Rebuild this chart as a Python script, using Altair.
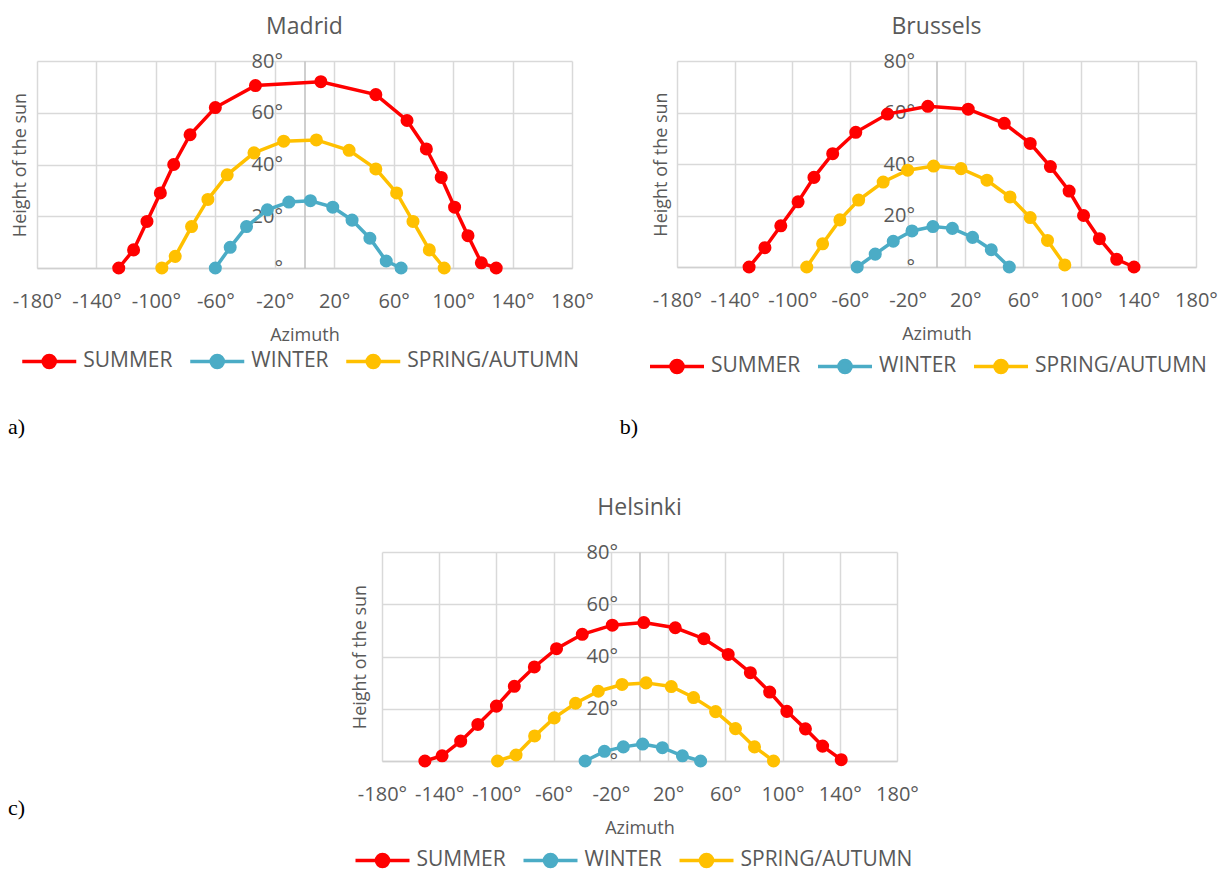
import altair as alt
import pandas as pd

SEASONS = ["SUMMER", "WINTER", "SPRING/AUTUMN"]
COLORS = ["#FF0000", "#4BACC6", "#FFC000"]
X_TICKS = [-180, -140, -100, -60, -20, 20, 60, 100, 140, 180]
Y_TICKS = [0, 20, 40, 60, 80]

# Madrid
madrid_summer_az = [-125, -115, -106, -97, -88, -77, -60, -33, 11, 48, 69, 82, 92, 101, 110, 119, 129]
madrid_summer_h = [0, 7, 18, 29, 40, 51.5, 62, 70.5, 72, 67, 57, 46, 35, 23.5, 12.5, 2, 0]
madrid_winter_az = [-60, -50, -39, -25, -10.5, 4, 19, 32, 44, 55, 65]
madrid_winter_h = [0, 8, 16, 22.5, 25.5, 26, 23.5, 18.5, 11.5, 2.7, 0]
madrid_spring_az = [-96, -87, -76, -65, -52, -34, -14, 8, 30, 48, 62, 73, 84, 94]
madrid_spring_h = [0, 4.5, 16, 26.5, 36, 44.5, 49, 49.5, 45.5, 38.3, 29, 18, 7, 0]

# Brussels
brussels_summer_az = [-130, -119, -108, -96, -85, -72, -56, -34, -6, 22, 47, 65, 79, 92, 102, 113, 125, 137]
brussels_summer_h = [0, 7.5, 16, 25.3, 34.8, 44, 52.3, 59.4, 62.4, 61.3, 55.8, 48, 39, 29.5, 20, 11, 3, 0]
brussels_winter_az = [-55, -42.5, -30, -17, -2.5, 11, 25, 38, 50.5]
brussels_winter_h = [0, 5, 10, 14, 15.7, 15, 11.5, 6.7, 0]
brussels_spring_az = [-90, -79, -67, -54, -37, -20, -2, 17, 35, 51, 65, 77, 89]
brussels_spring_h = [0, 9, 18.3, 26, 33, 37.6, 39.2, 38.2, 33.7, 27.2, 19.2, 10.3, 0.8]

# Helsinki
helsinki_summer_az = [-150, -138, -125, -113, -100, -87.5, -73.5, -58, -40, -19, 3, 25, 45, 62, 77.5, 91, 103, 116, 128, 141]
helsinki_summer_h = [0, 2, 7.6, 14, 21, 28.6, 36, 43, 48.5, 52, 53, 51, 46.8, 40.8, 33.8, 26.4, 19, 12.3, 5.7, 0.5]
helsinki_winter_az = [-38, -24.5, -11.3, 2.2, 16, 30, 42.7]
helsinki_winter_h = [0, 3.7, 5.4, 6.5, 5.1, 2, 0]
helsinki_spring_az = [-99.2, -86.3, -73.3, -59.6, -44.7, -28.8, -12.2, 4.6, 22.2, 37.8, 53.2, 67.1, 80.4, 93.7]
helsinki_spring_h = [0, 2.3, 9.6, 16.5, 22.1, 26.7, 29.3, 29.9, 28.5, 24.3, 18.9, 12.4, 5.4, 0]

series = {
    "Madrid": [(madrid_summer_az, madrid_summer_h), (madrid_winter_az, madrid_winter_h), (madrid_spring_az, madrid_spring_h)],
    "Brussels": [(brussels_summer_az, brussels_summer_h), (brussels_winter_az, brussels_winter_h), (brussels_spring_az, brussels_spring_h)],
    "Helsinki": [(helsinki_summer_az, helsinki_summer_h), (helsinki_winter_az, helsinki_winter_h), (helsinki_spring_az, helsinki_spring_h)],
}

rows = []
for city, lst in series.items():
    for season, (azs, hs) in zip(SEASONS, lst):
        for a, v in zip(azs, hs):
            rows.append({"city": city, "season": season, "az": a, "h": v})
data = pd.DataFrame(rows)

FONT = "Open Sans"
GREY = "#595959"
# legend symbol: 54px line with a dot in its middle (unit = 9px)
PATH = "M-1,0L5,0M1.328,0A0.672,0.672,0,1,0,2.672,0A0.672,0.672,0,1,0,1.328,0Z"


def panel(city, w, h, title_off, label, lab_x, lab_y, leg_x, leg_y, ytitle_x):
    df = data[data.city == city]
    x = alt.X("az:Q", scale=alt.Scale(domain=[-180, 180], nice=False, zero=False),
              axis=alt.Axis(values=X_TICKS, labelExpr="datum.value + '°'", title="Azimuth",
                            titleX=w / 2, titleY=67, titleBaseline="middle", titleAlign="center",
                            labelPadding=33, labelBaseline="middle", labelFlush=False,
                            labelOverlap=False, domainColor="#d0d0d0", domainWidth=1.5))
    y = alt.Y("h:Q", scale=alt.Scale(domain=[0, 80], nice=False),
              axis=alt.Axis(values=Y_TICKS,
                            labelExpr="datum.value == 0 ? '°' : datum.value + '°'",
                            title="Height of the sun", offset=-w / 2,
                            titleX=ytitle_x - w / 2, titleY=h / 2, titleAngle=270,
                            titleBaseline="middle", titleAlign="center",
                            labelPadding=22, domainColor="#bfbfbf", domainWidth=1.5))
    color = alt.Color("season:N", title=None,
                      scale=alt.Scale(domain=SEASONS, range=COLORS),
                      legend=alt.Legend(orient="none", legendX=leg_x, legendY=leg_y,
                                        direction="horizontal", columns=3, padding=0,
                                        symbolType=PATH, symbolSize=324,
                                        symbolStrokeWidth=3.5, labelOffset=41,
                                        columnPadding=10, labelFont=FONT, labelLimit=400,
                                        labelFontSize=21, labelColor=GREY))
    base = alt.Chart(df)
    lines = base.mark_line(strokeWidth=3.5).encode(x=x, y=y, color=color)
    points = base.mark_point(filled=True, size=170, opacity=1).encode(x=x, y=y, color=color)
    layers = [lines, points]
    if label:
        lab = alt.Chart(pd.DataFrame({"t": [label]})).mark_text(
            font="Liberation Serif", fontSize=22, color="black", align="left", baseline="middle"
        ).encode(text="t:N", x=alt.value(lab_x), y=alt.value(lab_y))
        layers.append(lab)
    return alt.layer(*layers).properties(
        width=w, height=h,
        title=alt.TitleParams(city, frame="group", offset=title_off, baseline="middle",
                              fontSize=23, font=FONT, color=GREY, fontWeight="normal",
                              anchor="middle"),
    )


madrid = panel("Madrid", 535, 207, 1.5, "a)", -29, 366, -16.75, 289, -17)
brussels = panel("Brussels", 519, 206, 1.5, "b)", -57.3, 366, -29, 294, -16)
helsinki = panel("Helsinki", 515, 209, 10.8, None, 0, 0, -28.5, 297, -22)

spacer = alt.Chart(pd.DataFrame({"t": ["c)"]})).mark_text(
    font="Liberation Serif", fontSize=22, color="black", align="left", baseline="middle"
).encode(text="t:N", x=alt.value(-29), y=alt.value(255.7)).properties(width=300, height=209)

top = alt.hconcat(madrid, brussels, spacing=25).resolve_scale(color="independent")
bottom = alt.hconcat(spacer, helsinki, spacing=14).resolve_scale(color="independent")
chart = alt.vconcat(top, bottom, spacing=59).resolve_scale(color="independent").properties(
    padding={"top": 7, "left": 0, "right": 0, "bottom": 0}
).configure_view(stroke=None).configure_axis(
    gridColor="#d9d9d9", gridWidth=1.5, tickSize=0, ticks=False,
    labelFont=FONT, labelFontSize=20, labelColor=GREY,
    titleFont=FONT, titleFontSize=18, titleColor=GREY, titleFontWeight="normal",
)

chart.save("out.html", embed_options={"renderer": "svg", "actions": False})
